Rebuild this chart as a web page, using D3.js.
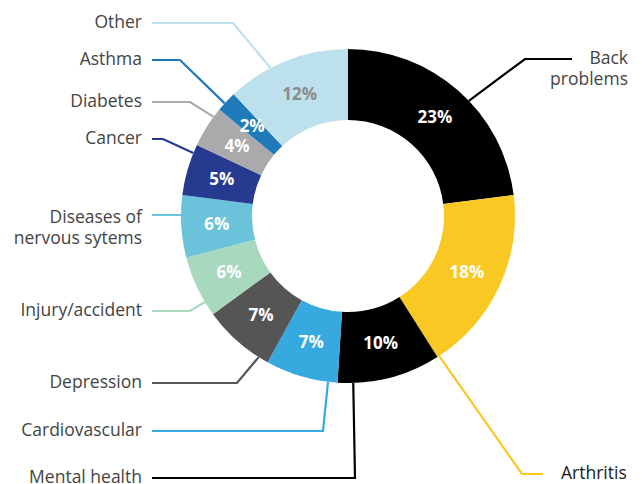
<!DOCTYPE html>
<html>
<head>
<meta charset="utf-8">
<script src="https://cdn.jsdelivr.net/npm/d3@7"></script>
<style>
  body { margin: 0; background: #fff; }
  svg { display: block; }
</style>
</head>
<body>
<div id="chart"></div>
<script>
// data
const categories = ["Back problems", "Arthritis", "Mental health", "Cardiovascular", "Depression",
    "Injury/accident", "Diseases of nervous sytems", "Cancer", "Diabetes", "Asthma", "Other"];
const shares = [23, 18, 10, 7, 7, 6, 6, 5, 4, 2, 12];
const colors = ["#000000", "#f9c823", "#000000", "#36a9de", "#555555",
    "#a8d8bd", "#6ac3da", "#263b8f", "#aaaaad", "#1e7ab9", "#bce0ec"];
const labelLines = [["Back", "problems"], ["Arthritis"], ["Mental health"], ["Cardiovascular"], ["Depression"],
    ["Injury/accident"], ["Diseases of", "nervous sytems"], ["Cancer"], ["Diabetes"], ["Asthma"], ["Other"]];

// label layout: side, leader y, elbow x, where along the slice the leader meets the ring
const labelLayout = [
    { side: "right", y: 59, elbow: 525, t: 0.56 },
    { side: "right", y: 474, elbow: 522, t: 0.99 },
    { side: "left", y: 478, elbow: 355, t: 0.85 },
    { side: "left", y: 431, elbow: 323, t: 0.13 },
    { side: "left", y: 383, elbow: 237, t: 0.14 },
    { side: "left", y: 311, elbow: 190, t: 0.23 },
    { side: "left", y: 215, elbow: 182, t: 0.68 },
    { side: "left", y: 139, elbow: 163, t: 0.83 },
    { side: "left", y: 102, elbow: 190, t: 0.78 },
    { side: "left", y: 60, elbow: 180, t: 0.39 },
    { side: "left", y: 23, elbow: 233, t: 0.36 }
];

let width = 642;
let height = 484;
let cx = 348, cy = 216;
let outerR = 167, innerR = 96;

let svg = d3.select("#chart")
    .append("svg")
    .attr("width", width)
    .attr("height", height);

let pie = d3.pie().sort(null).value(d => d);
let arcs = pie(shares);

let arc = d3.arc().innerRadius(innerR).outerRadius(outerR);

let g = svg.append("g")
    .attr("transform", "translate(" + cx + "," + cy + ")");

g.selectAll("path.slice")
    .data(arcs)
    .enter().append("path")
    .attr("class", "slice")
    .attr("d", arc)
    .attr("fill", (d, i) => colors[i]);

g.selectAll("text.pct")
    .data(arcs)
    .enter().append("text")
    .attr("class", "pct")
    .attr("transform", d => "translate(" + arc.centroid(d) + ")")
    .attr("text-anchor", "middle")
    .attr("dy", "0.36em")
    .attr("font-family", "'Open Sans', sans-serif")
    .attr("font-weight", "bold")
    .attr("font-size", "17px")
    .attr("fill", (d, i) => categories[i] === "Other" ? "#8c8c8c" : "#ffffff")
    .text(d => d.value + "%");

// leaders
function anchorPoint(d, t) {
    let a = d.startAngle + (d.endAngle - d.startAngle) * t;
    return [cx + outerR * Math.sin(a), cy - outerR * Math.cos(a)];
}

let leaderLine = d3.line();

arcs.forEach(function (d, i) {
    let lay = labelLayout[i];
    let p = anchorPoint(d, lay.t);
    let startX = lay.side === "left" ? 152 : (i === 0 ? 572 : 543);
    let pts = [[startX, lay.y], [lay.elbow, lay.y], p];
    svg.append("path")
        .attr("d", leaderLine(pts))
        .attr("fill", "none")
        .attr("stroke", colors[i])
        .attr("stroke-width", 2.2);

    let lines = labelLines[i];
    let tx, anchor;
    if (lay.side === "left") { tx = 142; anchor = "end"; }
    else if (lines.length > 1) { tx = 628; anchor = "end"; }
    else { tx = 561; anchor = "start"; }

    let y0 = (lines.length > 1 && i !== 0) ? lay.y + 3 : lay.y;
    let text = svg.append("text")
        .attr("x", tx)
        .attr("text-anchor", anchor)
        .attr("font-family", "'Open Sans', sans-serif")
        .attr("font-size", "17.5px")
        .attr("fill", categories[i] === "Arthritis" ? "#1a1a1a" : "#444444");
    lines.forEach(function (ln, k) {
        text.append("tspan")
            .attr("x", tx)
            .attr("y", y0 + 4.5 + k * 21)
            .text(ln);
    });
});
</script>
</body>
</html>
